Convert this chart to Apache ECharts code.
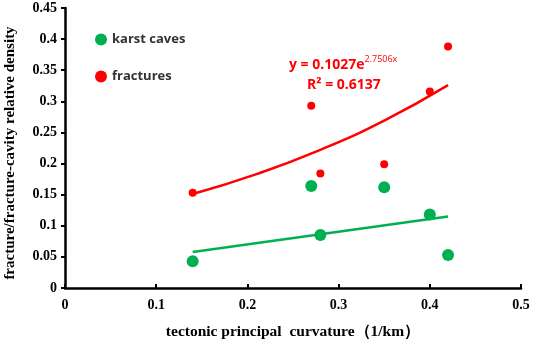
<!DOCTYPE html>
<html>
<head>
<meta charset="utf-8">
<script src="https://cdn.jsdelivr.net/npm/echarts@6/dist/echarts.min.js"></script>
<style>
  html, body { margin: 0; padding: 0; background: #fff; }
  #chart { width: 533px; height: 340px; }
</style>
</head>
<body>
<div id="chart"></div>
<script>
// curvature (1/km) vs relative density
const caveX = [0.14, 0.27, 0.28, 0.35, 0.40, 0.42];
const caveY = [0.043, 0.164, 0.085, 0.162, 0.118, 0.053];
const fracX = [0.14, 0.27, 0.28, 0.35, 0.40, 0.42];
const fracY = [0.153, 0.293, 0.184, 0.199, 0.316, 0.388];

// trendlines as drawn in the figure
const caveTrendX = [0.14, 0.42];
const caveTrendY = [0.058, 0.115];
const fracTrendX = [0.14, 0.21, 0.28, 0.35, 0.42];
const fracTrendY = [0.151, 0.183, 0.222, 0.269, 0.326];

const xTicks = { min: 0, max: 0.5, interval: 0.1 };
const yTicks = { min: 0, max: 0.45, interval: 0.05 };

const zip = (xs, ys) => xs.map((x, i) => [x, ys[i]]);

const GREEN = '#00b050';
const RED = '#ff0000';
const serif = '"Liberation Serif", "DejaVu Serif", serif';

const chart = echarts.init(document.getElementById('chart'));

chart.setOption({
  animation: false,
  backgroundColor: '#fff',
  grid: { left: 65, right: 12, top: 8, bottom: 52, outerBoundsMode: 'none', containLabel: false },
  legend: {
    orient: 'vertical',
    left: 90,
    top: 28,
    itemGap: 24,
    itemWidth: 12,
    itemHeight: 12,
    textStyle: { fontFamily: '"Open Sans", sans-serif', fontWeight: 'bold', fontSize: 13, color: '#333' },
    data: [
      { name: 'karst caves', icon: 'circle' },
      { name: 'fractures', icon: 'circle', itemStyle: { color: RED } }
    ]
  },
  xAxis: {
    type: 'value',
    min: xTicks.min, max: xTicks.max, interval: xTicks.interval,
    name: 'tectonic principal  curvature\uFF081/km\uFF09',
    nameLocation: 'middle',
    nameGap: 36,
    nameTextStyle: { fontFamily: serif, fontWeight: 'bold', fontSize: 15.5, color: '#000' },
    axisLine: { lineStyle: { color: '#000', width: 2.5 } },
    axisTick: { inside: true, length: 4, lineStyle: { color: '#000', width: 2 } },
    axisLabel: { fontFamily: serif, fontWeight: 'bold', fontSize: 14, color: '#000', margin: 10 },
    splitLine: { show: false }
  },
  yAxis: {
    type: 'value',
    min: yTicks.min, max: yTicks.max, interval: yTicks.interval,
    name: 'fracture/fracture-cavity relative density',
    nameLocation: 'middle',
    nameGap: 47,
    nameTextStyle: { fontFamily: serif, fontWeight: 'bold', fontSize: 15, color: '#000', padding: [0, 10, 0, 0] },
    axisLine: { show: true, lineStyle: { color: '#000', width: 2.5 } },
    axisTick: { show: true, length: 4, lineStyle: { color: '#000', width: 2 } },
    axisLabel: {
      fontFamily: serif, fontWeight: 'bold', fontSize: 14, color: '#000', margin: 8,
      formatter: v => String(+v.toFixed(2))
    },
    splitLine: { show: false }
  },
  graphic: [{
    type: 'text',
    left: 289,
    top: 55,
    style: {
      text: '{b|y = 0.1027e}{s|2.7506x}\n{r|R\u00B2 = 0.6137}',
      rich: {
        b: { fontFamily: '"Open Sans", sans-serif', fontWeight: 'bold', fontSize: 14, fill: RED, lineHeight: 20 },
        s: { fontFamily: '"Open Sans", sans-serif', fontSize: 9, fill: RED, verticalAlign: 'top', padding: [0, 0, 8, 0] },
        r: { fontFamily: '"Open Sans", sans-serif', fontWeight: 'bold', fontSize: 14, fill: RED, lineHeight: 20, padding: [0, 0, 0, 18] }
      }
    }
  }],
  series: [
    {
      name: 'karst caves-trend',
      type: 'line',
      data: zip(caveTrendX, caveTrendY),
      showSymbol: false,
      lineStyle: { color: GREEN, width: 2.5 },
      silent: true,
      z: 1
    },
    {
      name: 'fractures-trend',
      type: 'line',
      data: zip(fracTrendX, fracTrendY),
      smooth: true,
      showSymbol: false,
      lineStyle: { color: RED, width: 2.5 },
      silent: true,
      z: 1
    },
    {
      name: 'karst caves',
      type: 'scatter',
      data: zip(caveX, caveY),
      symbol: 'circle',
      symbolSize: 12,
      itemStyle: { color: GREEN, opacity: 1 },
      z: 3
    },
    {
      name: 'fractures',
      type: 'scatter',
      data: zip(fracX, fracY),
      symbol: 'circle',
      symbolSize: 8,
      itemStyle: { color: RED, opacity: 1 },
      z: 3
    }
  ]
});
</script>
</body>
</html>
